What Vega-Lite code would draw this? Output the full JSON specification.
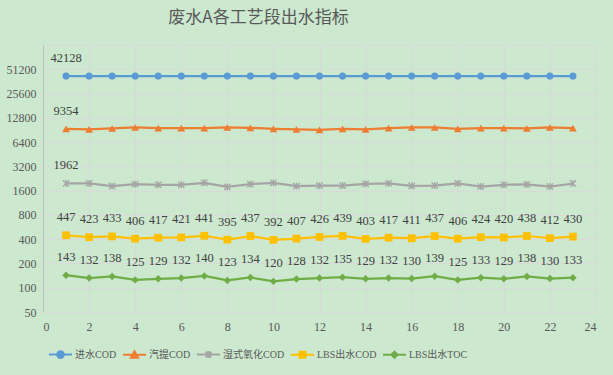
{
  "$schema": "https://vega.github.io/schema/vega-lite/v6.json",
  "autosize": "none",
  "width": 553,
  "height": 267,
  "padding": {"left": 43, "top": 45, "right": 17, "bottom": 63},
  "background": "#cce8cf",
  "title": {"text": "废水A各工艺段出水指标", "fontSize": 17, "font": "Noto Sans CJK SC", "fontWeight": "normal", "color": "#595959", "anchor": "middle", "dx": -61, "offset": 18},
  "config": {
    "view": {"stroke": "#d9d9d9", "strokeWidth": 1},
    "axis": {"labelFont": "Liberation Serif", "labelFontSize": 12, "labelColor": "#595959", "gridColor": "#d9d9d9", "gridWidth": 1, "domainColor": "#bfbfbf", "ticks": false, "title": null}
  },
  "data": {"values": [
    {"x":1,"series":"进水COD","value":42128},{"x":2,"series":"进水COD","value":42128},{"x":3,"series":"进水COD","value":42128},{"x":4,"series":"进水COD","value":42128},{"x":5,"series":"进水COD","value":42128},{"x":6,"series":"进水COD","value":42128},{"x":7,"series":"进水COD","value":42128},{"x":8,"series":"进水COD","value":42128},{"x":9,"series":"进水COD","value":42128},{"x":10,"series":"进水COD","value":42128},{"x":11,"series":"进水COD","value":42128},{"x":12,"series":"进水COD","value":42128},{"x":13,"series":"进水COD","value":42128},{"x":14,"series":"进水COD","value":42128},{"x":15,"series":"进水COD","value":42128},{"x":16,"series":"进水COD","value":42128},{"x":17,"series":"进水COD","value":42128},{"x":18,"series":"进水COD","value":42128},{"x":19,"series":"进水COD","value":42128},{"x":20,"series":"进水COD","value":42128},{"x":21,"series":"进水COD","value":42128},{"x":22,"series":"进水COD","value":42128},{"x":23,"series":"进水COD","value":42128},
    {"x":1,"series":"汽提COD","value":9354},{"x":2,"series":"汽提COD","value":9180},{"x":3,"series":"汽提COD","value":9440},{"x":4,"series":"汽提COD","value":9710},{"x":5,"series":"汽提COD","value":9530},{"x":6,"series":"汽提COD","value":9530},{"x":7,"series":"汽提COD","value":9530},{"x":8,"series":"汽提COD","value":9710},{"x":9,"series":"汽提COD","value":9620},{"x":10,"series":"汽提COD","value":9354},{"x":11,"series":"汽提COD","value":9180},{"x":12,"series":"汽提COD","value":9090},{"x":13,"series":"汽提COD","value":9354},{"x":14,"series":"汽提COD","value":9180},{"x":15,"series":"汽提COD","value":9530},{"x":16,"series":"汽提COD","value":9710},{"x":17,"series":"汽提COD","value":9710},{"x":18,"series":"汽提COD","value":9354},{"x":19,"series":"汽提COD","value":9530},{"x":20,"series":"汽提COD","value":9530},{"x":21,"series":"汽提COD","value":9440},{"x":22,"series":"汽提COD","value":9710},{"x":23,"series":"汽提COD","value":9530},
    {"x":1,"series":"湿式氧化COD","value":1962},{"x":2,"series":"湿式氧化COD","value":1962},{"x":3,"series":"湿式氧化COD","value":1819},{"x":4,"series":"湿式氧化COD","value":1925},{"x":5,"series":"湿式氧化COD","value":1890},{"x":6,"series":"湿式氧化COD","value":1890},{"x":7,"series":"湿式氧化COD","value":2000},{"x":8,"series":"湿式氧化COD","value":1780},{"x":9,"series":"湿式氧化COD","value":1925},{"x":10,"series":"湿式氧化COD","value":2000},{"x":11,"series":"湿式氧化COD","value":1819},{"x":12,"series":"湿式氧化COD","value":1840},{"x":13,"series":"湿式氧化COD","value":1851},{"x":14,"series":"湿式氧化COD","value":1943},{"x":15,"series":"湿式氧化COD","value":1962},{"x":16,"series":"湿式氧化COD","value":1835},{"x":17,"series":"湿式氧化COD","value":1851},{"x":18,"series":"湿式氧化COD","value":1962},{"x":19,"series":"湿式氧化COD","value":1798},{"x":20,"series":"湿式氧化COD","value":1890},{"x":21,"series":"湿式氧化COD","value":1907},{"x":22,"series":"湿式氧化COD","value":1798},{"x":23,"series":"湿式氧化COD","value":1962},
    {"x":1,"series":"LBS出水COD","value":447},{"x":2,"series":"LBS出水COD","value":423},{"x":3,"series":"LBS出水COD","value":433},{"x":4,"series":"LBS出水COD","value":406},{"x":5,"series":"LBS出水COD","value":417},{"x":6,"series":"LBS出水COD","value":421},{"x":7,"series":"LBS出水COD","value":441},{"x":8,"series":"LBS出水COD","value":395},{"x":9,"series":"LBS出水COD","value":437},{"x":10,"series":"LBS出水COD","value":392},{"x":11,"series":"LBS出水COD","value":407},{"x":12,"series":"LBS出水COD","value":426},{"x":13,"series":"LBS出水COD","value":439},{"x":14,"series":"LBS出水COD","value":403},{"x":15,"series":"LBS出水COD","value":417},{"x":16,"series":"LBS出水COD","value":411},{"x":17,"series":"LBS出水COD","value":437},{"x":18,"series":"LBS出水COD","value":406},{"x":19,"series":"LBS出水COD","value":424},{"x":20,"series":"LBS出水COD","value":420},{"x":21,"series":"LBS出水COD","value":438},{"x":22,"series":"LBS出水COD","value":412},{"x":23,"series":"LBS出水COD","value":430},
    {"x":1,"series":"LBS出水TOC","value":143},{"x":2,"series":"LBS出水TOC","value":132},{"x":3,"series":"LBS出水TOC","value":138},{"x":4,"series":"LBS出水TOC","value":125},{"x":5,"series":"LBS出水TOC","value":129},{"x":6,"series":"LBS出水TOC","value":132},{"x":7,"series":"LBS出水TOC","value":140},{"x":8,"series":"LBS出水TOC","value":123},{"x":9,"series":"LBS出水TOC","value":134},{"x":10,"series":"LBS出水TOC","value":120},{"x":11,"series":"LBS出水TOC","value":128},{"x":12,"series":"LBS出水TOC","value":132},{"x":13,"series":"LBS出水TOC","value":135},{"x":14,"series":"LBS出水TOC","value":129},{"x":15,"series":"LBS出水TOC","value":132},{"x":16,"series":"LBS出水TOC","value":130},{"x":17,"series":"LBS出水TOC","value":139},{"x":18,"series":"LBS出水TOC","value":125},{"x":19,"series":"LBS出水TOC","value":133},{"x":20,"series":"LBS出水TOC","value":129},{"x":21,"series":"LBS出水TOC","value":138},{"x":22,"series":"LBS出水TOC","value":130},{"x":23,"series":"LBS出水TOC","value":133}
  ]},
  "encoding": {
    "x": {"field": "x", "type": "quantitative", "scale": {"domain": [0, 24], "nice": false}, "axis": {"values": [0,2,4,6,8,10,12,14,16,18,20,22,24], "labelPadding": 9, "domainColor": "#d9d9d9"}},
    "y": {"field": "value", "type": "quantitative", "scale": {"type": "log", "base": 2, "domain": [50, 102400], "nice": false}, "axis": {"values": [50,100,200,400,800,1600,3200,6400,12800,25600,51200], "format": "d", "labelPadding": 7, "domainColor": "#bfbfbf"}}
  },
  "layer": [
    {"mark": {"type": "line", "strokeWidth": 2.25}, "encoding": {"color": {"field": "series", "type": "nominal", "scale": {"domain": ["进水COD","汽提COD","湿式氧化COD","LBS出水COD","LBS出水TOC"], "range": ["#5b9bd5","#ed7d31","#a5a5a5","#ffc000","#70ad47"]},
      "legend": {"orient": "bottom", "direction": "horizontal", "title": null, "offset": 5, "padding": 5, "columnPadding": 2, "labelOffset": 2, "symbolSize": 529, "labelFont": "Liberation Serif, Noto Sans CJK SC", "labelFontSize": 10, "labelColor": "#595959",
        "encode": {"symbols": {"update": {
          "shape": {"signal": "['M-1,0H1M-0.29,0A0.29,0.29 0 1,0 0.29,0A0.29,0.29 0 1,0 -0.29,0Z','M-1,0H1M0,-0.32L0.32,0.24L-0.32,0.24Z','M-1,0H1M-0.24,-0.24L0.24,0.24M-0.24,0.24L0.24,-0.24M0,-0.3V0.3','M-1,0H1M-0.26,-0.26H0.26V0.26H-0.26Z','M-1,0H1M0,-0.27L0.27,0L0,0.27L-0.27,0Z'][datum.index]"},
          "fill": {"scale": "color", "field": "value"},
          "stroke": {"scale": "color", "field": "value"},
          "strokeWidth": {"value": 2},
          "size": {"value": 529},
          "opacity": {"value": 1}
        }}}
      }}}},
    {"transform": [{"filter": "datum.series == '进水COD'"}], "mark": {"type": "point", "shape": "circle", "filled": true, "opacity": 1, "size": 50, "color": "#5b9bd5"}},
    {"transform": [{"filter": "datum.series == '汽提COD'"}], "mark": {"type": "point", "shape": "triangle-up", "filled": true, "opacity": 1, "size": 60, "color": "#ed7d31"}},
    {"transform": [{"filter": "datum.series == '湿式氧化COD'"}], "mark": {"type": "point", "shape": "M-1,-1L1,1M-1,1L1,-1M0,-1.1V1.1", "filled": false, "opacity": 1, "size": 40, "strokeWidth": 1.3, "color": "#a5a5a5"}},
    {"transform": [{"filter": "datum.series == 'LBS出水COD'"}], "mark": {"type": "point", "shape": "square", "filled": true, "opacity": 1, "size": 60, "color": "#ffc000"}},
    {"transform": [{"filter": "datum.series == 'LBS出水TOC'"}], "mark": {"type": "point", "shape": "diamond", "filled": true, "opacity": 1, "size": 55, "color": "#70ad47"}},
    {"transform": [{"filter": "datum.series == 'LBS出水COD' || datum.series == 'LBS出水TOC' || datum.x == 1"}], "mark": {"type": "text", "dy": -18, "font": "Liberation Serif", "fontSize": 12.5, "color": "#404040"}, "encoding": {"text": {"field": "value", "type": "quantitative", "format": "d"}}}
  ]
}
